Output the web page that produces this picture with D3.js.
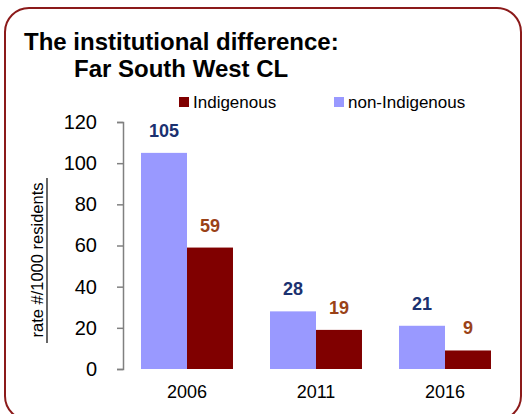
<!DOCTYPE html>
<html>
<head>
<meta charset="utf-8">
<script src="https://cdn.jsdelivr.net/npm/d3@7"></script>
<style>
  body { margin: 0; background: #fff; }
  text { font-family: "Liberation Sans", Arial, sans-serif; }
</style>
</head>
<body>
<div id="chart"></div>
<script>
// data
var years = ["2006", "2011", "2016"];
var seriesNames = ["non-Indigenous", "Indigenous"];
var nonIndigenous = [105, 28, 21];
var indigenous = [59, 19, 9];
var yTicks = [0, 20, 40, 60, 80, 100, 120];

var colors = { "non-Indigenous": "#9999ff", "Indigenous": "#800000" };
var labelColors = { "non-Indigenous": "#1b3170", "Indigenous": "#9a4218" };

var rows = years.map(function (y, i) {
    return { year: y, "non-Indigenous": nonIndigenous[i], "Indigenous": indigenous[i] };
});

var W = 528, H = 414;
var svg = d3.select("#chart").append("svg")
    .attr("width", W)
    .attr("height", H);

// frame (bottom edge runs off the picture)
svg.append("rect")
    .attr("x", 5).attr("y", 8)
    .attr("width", 516).attr("height", 412)
    .attr("rx", 24).attr("ry", 24)
    .attr("fill", "#fff")
    .attr("stroke", "#8b1a1a")
    .attr("stroke-width", 2);

// title
svg.append("text")
    .attr("x", 24).attr("y", 50)
    .attr("font-size", 24).attr("font-weight", "bold")
    .text("The institutional difference:");
svg.append("text")
    .attr("x", 74).attr("y", 77)
    .attr("font-size", 24).attr("font-weight", "bold")
    .text("Far South West CL");

// scales
var x0 = d3.scaleBand()
    .domain(years)
    .range([122.5, 509.5])
    .paddingInner(0.287)
    .paddingOuter(0.1435);

var x1 = d3.scaleBand()
    .domain(seriesNames)
    .range([0, x0.bandwidth()]);

var y = d3.scaleLinear()
    .domain([0, 120])
    .range([369, 122]);

// y axis
var yAxis = d3.axisLeft(y).tickValues(yTicks).tickSize(6).tickPadding(20);
var gy = svg.append("g")
    .attr("transform", "translate(123,0)")
    .call(yAxis);
gy.select(".domain").attr("stroke", "#808080").attr("stroke-width", 1.5);
gy.selectAll(".tick line").attr("stroke", "#808080").attr("stroke-width", 1.5);
gy.selectAll(".tick text")
    .attr("font-size", 20)
    .attr("fill", "#000")
    .style("font-family", "Liberation Sans, Arial, sans-serif");

// y axis title (underlined)
svg.append("text")
    .attr("transform", "translate(43,260) rotate(-90)")
    .attr("text-anchor", "middle")
    .attr("font-size", 16.5)
    .text("rate #/1000 residents");
svg.append("line")
    .attr("x1", 47).attr("x2", 47)
    .attr("y1", 178).attr("y2", 343)
    .attr("stroke", "#000").attr("stroke-width", 1.2);

// bars
var groups = svg.append("g").selectAll("g")
    .data(rows)
    .enter().append("g")
    .attr("transform", function (d) { return "translate(" + x0(d.year) + ",0)"; });

groups.selectAll("rect")
    .data(function (d) { return seriesNames.map(function (k) { return { key: k, value: d[k] }; }); })
    .enter().append("rect")
    .attr("x", function (d) { return x1(d.key); })
    .attr("y", function (d) { return y(d.value); })
    .attr("width", x1.bandwidth())
    .attr("height", function (d) { return y(0) - y(d.value); })
    .attr("fill", function (d) { return colors[d.key]; });

groups.selectAll("text.val")
    .data(function (d) { return seriesNames.map(function (k) { return { key: k, value: d[k] }; }); })
    .enter().append("text")
    .attr("class", "val")
    .attr("x", function (d) { return x1(d.key) + x1.bandwidth() / 2; })
    .attr("y", function (d) { return y(d.value) - 16; })
    .attr("text-anchor", "middle")
    .attr("font-size", 18)
    .attr("font-weight", "bold")
    .attr("fill", function (d) { return labelColors[d.key]; })
    .text(function (d) { return d.value; });

// x labels
svg.append("g").selectAll("text")
    .data(years)
    .enter().append("text")
    .attr("x", function (d) { return x0(d) + x0.bandwidth() / 2; })
    .attr("y", 398)
    .attr("text-anchor", "middle")
    .attr("font-size", 18)
    .text(function (d) { return d; });

// legend
var legendItems = [
    { name: "Indigenous", x: 179 },
    { name: "non-Indigenous", x: 334 }
];
var lg = svg.append("g").selectAll("g")
    .data(legendItems)
    .enter().append("g")
    .attr("transform", function (d) { return "translate(" + d.x + ",97)"; });
lg.append("rect")
    .attr("width", 10).attr("height", 10)
    .attr("fill", function (d) { return colors[d.name]; });
lg.append("text")
    .attr("x", 14).attr("y", 11)
    .attr("font-size", 17)
    .text(function (d) { return d.name; });
</script>
</body>
</html>
